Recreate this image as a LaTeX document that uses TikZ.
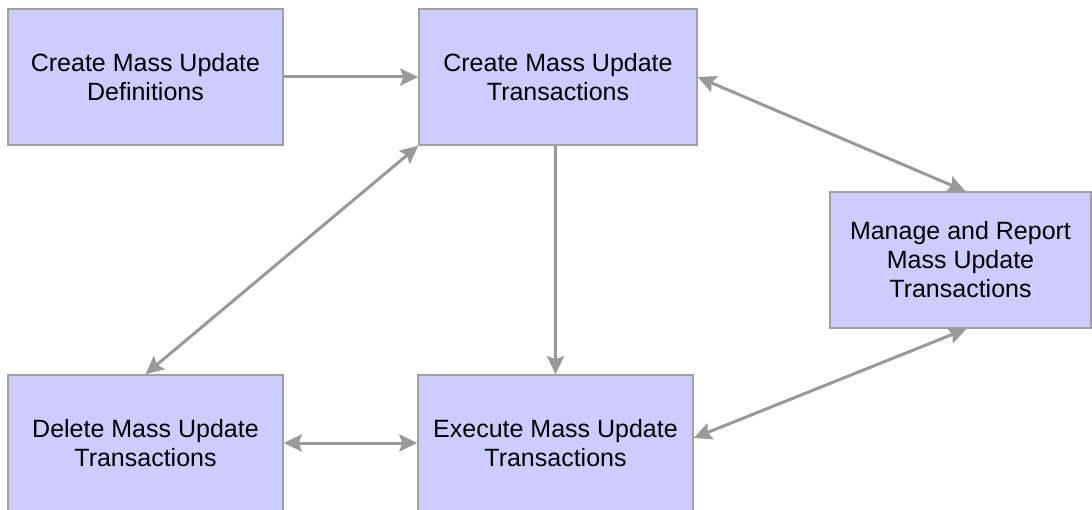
\documentclass[tikz,border=0pt]{standalone}
\usepackage{fontspec}
\setmainfont{Liberation Sans}
\usetikzlibrary{arrows.meta}
\definecolor{boxfill}{HTML}{CCCCFF}
\definecolor{boxline}{HTML}{A0A0A0}
\definecolor{flow}{HTML}{999999}

\begin{document}
\begin{tikzpicture}[x=1pt,y=-1pt,
		>={Stealth[length=18pt,width=17pt,inset=3pt]},
		task/.style={draw=boxline,line width=1.5pt,fill=boxfill,inner sep=0pt,
			minimum height=136pt,align=center,
			font=\fontsize{25}{29}\selectfont},
		link/.style={draw=flow,line width=3pt}]
		%
		\useasboundingbox (0,0) rectangle (1092,510);
		\clip (0,0) rectangle (1092,510);
		%
		\node[task,minimum width=275pt] (defs) at (145.5,77) {Create Mass Update\\Definitions};
		\node[task,minimum width=278pt] (create) at (558,77) {Create Mass Update\\Transactions};
		\node[task,minimum width=261pt] (manage) at (960.5,260) {Manage and Report\\Mass Update\\Transactions};
		\node[task,minimum width=275pt] (delete) at (145.5,443) {Delete Mass Update\\Transactions};
		\node[task,minimum width=275pt] (execute) at (555.5,443) {Execute Mass Update\\Transactions};
		%
		\draw[link,->] (defs) -- (create);
		\draw[link,<->] (create.east) -- ([xshift=5pt]manage.north);
		\draw[link,<->] (create.south west) -- (delete.north);
		\draw[link,->] (create.south -| execute.north) -- (execute.north);
		\draw[link,<->] (delete) -- (execute);
		\draw[link,<->] ([yshift=5pt]execute.east) -- ([xshift=6pt]manage.south);
		%
	\end{tikzpicture}
\end{document}
